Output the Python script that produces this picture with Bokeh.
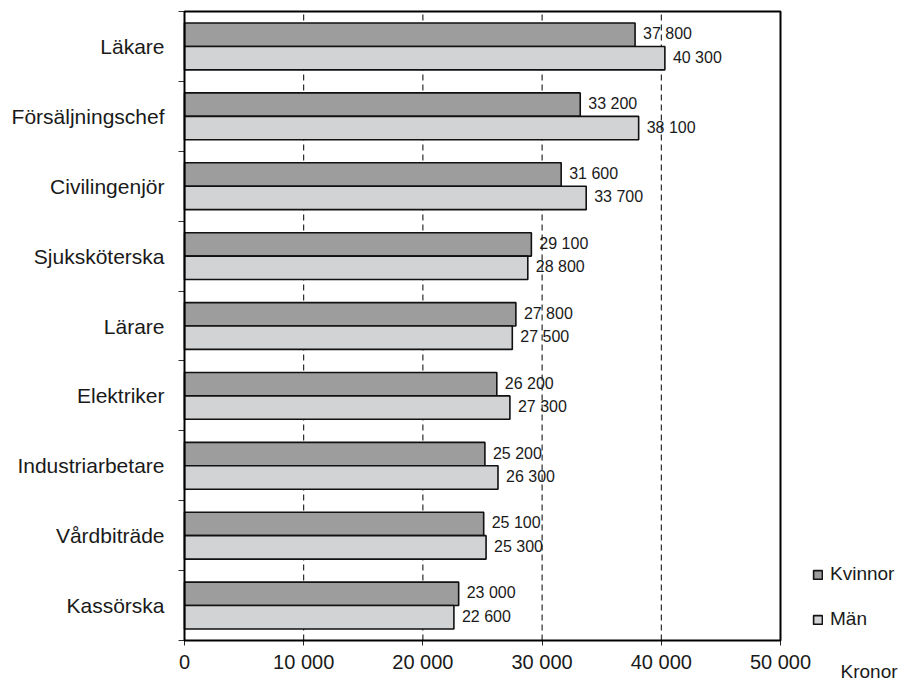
from bokeh.plotting import figure
from bokeh.models import (Range1d, FixedTicker, Legend, LegendItem, Label,
                          ColumnDataSource, BoxAnnotation)
from bokeh.embed import file_html
from bokeh.resources import INLINE
from bokeh.core.properties import value

# ---- data ----
categories = ["Läkare", "Försäljningschef", "Civilingenjör", "Sjuksköterska",
              "Lärare", "Elektriker", "Industriarbetare", "Vårdbiträde", "Kassörska"]
kvinnor = [37800, 33200, 31600, 29100, 27800, 26200, 25200, 25100, 23000]
man = [40300, 38100, 33700, 28800, 27500, 27300, 26300, 25300, 22600]
x_ticks = [0, 10000, 20000, 30000, 40000, 50000]
series_names = ["Kvinnor", "Män"]
x_title = "Kronor"

FONT = "Liberation Sans"
C_K = "#9d9d9d"
C_M = "#d2d3d5"

# ---- layout (pixels) ----
W, H = 906, 685
BOX_L, BOX_R, BOX_T, BOX_B = 184, 780, 11, 640

n = len(categories)
x_max = x_ticks[-1]
px_x = (BOX_R - BOX_L) / x_max
px_y = (BOX_B - BOX_T) / n
x_start = -BOX_L / px_x
x_end = (W - BOX_L) / px_x
y_end = n + BOX_T / px_y
y_start = -(H - BOX_B) / px_y

centers = [n - 0.5 - i for i in range(n)]
bar_h = 0.335
off = bar_h / 2


def fmt(v):
    return f"{v:,}".replace(",", " ")


src_k = ColumnDataSource(dict(y=[c + off for c in centers], v=kvinnor,
                              lab=[fmt(v) for v in kvinnor]))
src_m = ColumnDataSource(dict(y=[c - off for c in centers], v=man,
                              lab=[fmt(v) for v in man]))
grid_src = ColumnDataSource(dict(x=x_ticks[1:-1],
                                 y0=[0] * (len(x_ticks) - 2),
                                 y1=[n] * (len(x_ticks) - 2)))

p = figure(width=W, height=H, output_backend="svg", toolbar_location=None,
           x_range=Range1d(x_start, x_end), y_range=Range1d(y_start, y_end),
           min_border_left=0, min_border_right=0, min_border_top=0,
           min_border_bottom=0)
p.background_fill_color = "white"
p.border_fill_color = "white"
p.outline_line_color = None
p.xgrid.visible = False
p.ygrid.visible = False

# dashed grid lines
p.segment(x0="x", x1="x", y0="y0", y1="y1", source=grid_src,
          line_color="black", line_width=1, line_dash="6 4")

rk = p.hbar(y="y", right="v", left=0, height=bar_h, source=src_k,
            fill_color=C_K, line_color="#111111", line_width=1.6)
rm = p.hbar(y="y", right="v", left=0, height=bar_h, source=src_m,
            fill_color=C_M, line_color="#111111", line_width=1.6)

for s in (src_k, src_m):
    p.text(x="v", y="y", text="lab", source=s, x_offset=8, y_offset=-1,
           text_baseline="middle", text_align="left",
           text_font=value(FONT), text_font_size="16px", text_color="#1a1a1a")

# plot box
p.add_layout(BoxAnnotation(left=0, right=x_max, bottom=0, top=n,
                           fill_alpha=0, line_color="black", line_alpha=1,
                           line_width=2))

# x axis (fixed at y = 0)
xa = p.xaxis[0]
xa.fixed_location = 0
xa.bounds = (0, x_max)
xa.ticker = FixedTicker(ticks=x_ticks)
xa.major_label_overrides = {t: fmt(t) for t in x_ticks}
xa.major_label_text_font = FONT
xa.major_label_text_font_size = "20px"
xa.major_label_text_color = "#1a1a1a"
xa.major_tick_out = 5
xa.major_tick_in = 0
xa.minor_tick_out = 0
xa.minor_tick_in = 0
xa.major_label_standoff = 5
xa.axis_line_color = None
xa.major_tick_line_color = "#222222"

# y axis (fixed at x = 0)
ya = p.yaxis[0]
ya.fixed_location = 0
ya.bounds = (0, n)
ya.ticker = FixedTicker(ticks=centers, minor_ticks=list(range(n + 1)))
ya.major_label_overrides = {c: name for c, name in zip(centers, categories)}
ya.major_label_text_font = FONT
ya.major_label_text_font_size = "21px"
ya.major_label_text_color = "#1a1a1a"
ya.major_tick_out = 0
ya.major_tick_in = 0
ya.minor_tick_out = 6
ya.minor_tick_in = 0
ya.minor_tick_line_color = "#333333"
ya.major_label_standoff = 14
ya.axis_line_color = None

# legend
legend = Legend(items=[LegendItem(label=series_names[0], renderers=[rk]),
                       LegendItem(label=series_names[1], renderers=[rm])],
                location=(812, 55), orientation="vertical",
                glyph_width=11, glyph_height=11, label_standoff=7,
                label_text_font=FONT, label_text_font_size="19px",
                label_text_color="#1a1a1a", label_height=22, spacing=23,
                padding=0, margin=0, border_line_color=None,
                background_fill_alpha=0)
p.add_layout(legend)

p.add_layout(Label(x=840, y=4, x_units="screen", y_units="screen",
                   text=x_title, text_font=FONT, text_font_size="19px",
                   text_color="#1a1a1a", text_baseline="bottom"))

open("out.html", "w").write(file_html(p, INLINE))
